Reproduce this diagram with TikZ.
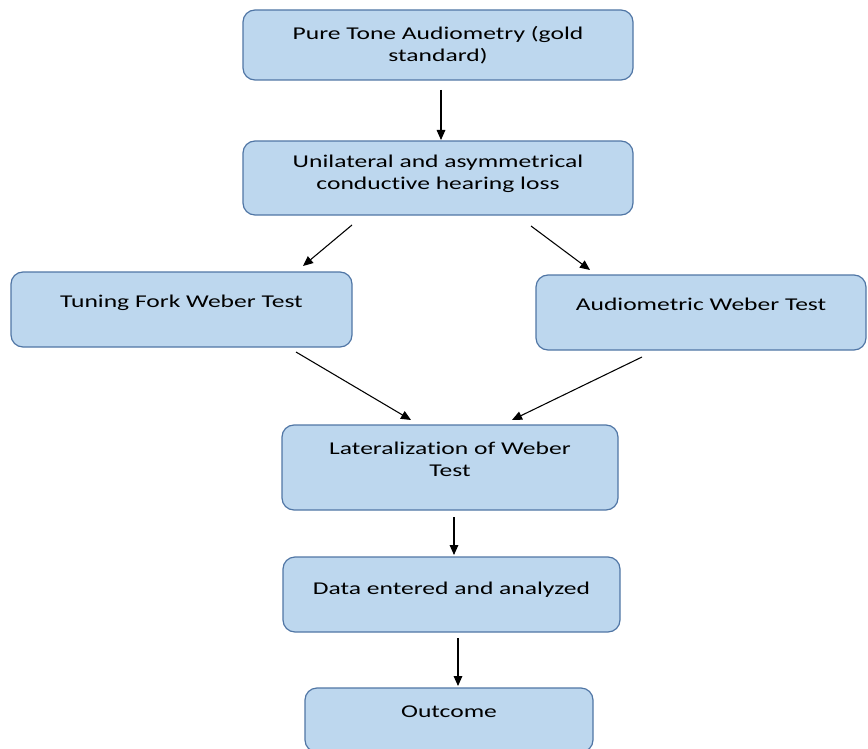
\documentclass[tikz,border=0pt]{standalone}
\usepackage{fontspec}
\setmainfont{Carlito}[FakeStretch=1.42,Ligatures=NoCommon]
\usetikzlibrary{arrows.meta}

\begin{document}
\begin{tikzpicture}[x=0.75pt,y=-0.75pt,
	box/.style={draw={rgb,255:red,80;green,118;blue,165},fill={rgb,255:red,189;green,215;blue,238},
		line width=0.9pt,rounded corners=9pt,rectangle,align=center,
		font=\fontsize{13.5pt}{16.5pt}\selectfont},
	raised/.style={text depth=#1},raised/.default=12pt,
	arr/.style={-{Triangle[length=7.5pt,width=6.5pt]},line width=0.8pt}]
	  \useasboundingbox (0,0) rectangle (868,749);
	  \clip (0,0) rectangle (868,749);
	  \node at (438,45) (pure) [box,minimum width=292.5pt,minimum height=52.5pt]{Pure Tone Audiometry (gold\\standard)};
	  \node at (438,178) (unil) [box,raised=9pt,minimum width=292.5pt,minimum height=55.5pt]{Unilateral and asymmetrical\\conductive hearing loss};
	  \node at (181.5,309.5) (fork) [box,raised,minimum width=255.75pt,minimum height=56.25pt]{Tuning Fork Weber Test};
	  \node at (701,312.5) (audio) [box,raised,minimum width=247.5pt,minimum height=56.25pt]{Audiometric Weber Test};
	  \node at (450,467.5) (later) [box,raised,minimum width=252pt,minimum height=63.75pt]{Lateralization of Weber\\Test};
	  \node at (451.5,594.5) (data) [box,raised=10pt,minimum width=252.75pt,minimum height=56.25pt]{Data entered and analyzed};
	  \node at (449,720) (outcome) [box,raised,minimum width=216pt,minimum height=48pt]{Outcome};
	  % free arrow ends
	  \coordinate (a1s) at (441,90);  \coordinate (a1e) at (441,140);
	  \coordinate (a2s) at (352,225); \coordinate (a2e) at (303,266);
	  \coordinate (a3s) at (531,226); \coordinate (a3e) at (590,270);
	  \coordinate (a4s) at (296,352); \coordinate (a4e) at (411,420);
	  \coordinate (a5s) at (642,357); \coordinate (a5e) at (512,420);
	  \coordinate (a6s) at (454,517); \coordinate (a6e) at (454,555);
	  \coordinate (a7s) at (458,638); \coordinate (a7e) at (458,686);
	  \draw[arr](a1s) -- (a1e);
	  \draw[arr](a2s) -- (a2e);
	  \draw[arr](a3s) -- (a3e);
	  \draw[arr](a4s) -- (a4e);
	  \draw[arr](a5s) -- (a5e);
	  \draw[arr](a6s) -- (a6e);
	  \draw[arr](a7s) -- (a7e);
	\end{tikzpicture}
\end{document}
